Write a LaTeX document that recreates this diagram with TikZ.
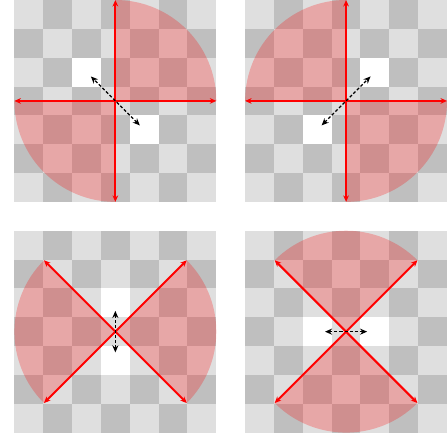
\documentclass[tikz,border=0pt]{standalone}
\usepackage{xcolor}
\usepackage{tikz}
\usetikzlibrary{arrows.meta}

\definecolor{lightsq}{HTML}{DFDFDF}
\definecolor{darksq}{HTML}{BFBFBF}

\begin{document}
\begin{tikzpicture}[
  x=5mm, y=5mm,
  lightcell/.style={fill=lightsq},
  darkcell/.style={fill=darksq},
  hole/.style={fill=white},
  sector/.style={fill=red, fill opacity=0.25},
  axis/.style={{Stealth[length=3.2pt, width=2.8pt]}-{Stealth[length=3.2pt, width=2.8pt]}, red, line width=1pt},
  move/.style={{Stealth[length=3.5pt, width=3pt]}-{Stealth[length=3.5pt, width=3pt]}, black, line width=0.6pt, dash pattern=on 1.5pt off 1pt}
]
  \useasboundingbox (-0.5,-0.07) rectangle (15,15);

  % centre x/y, first sector angle, hole offset, move angle, move length
  \foreach \cx/\cy/\a/\hx/\hy/\m/\l in {3.5/11.5/0/-1/1/135/1.2,
                                        11.5/11.5/90/1/1/45/1.2,
                                        3.5/3.5/-45/0/1/90/0.72,
                                        11.5/3.5/45/1/0/0/0.73} {
    \begin{scope}[shift={(\cx,\cy)}]
      \fill[lightcell] (-3.5,-3.5) rectangle (3.5,3.5);
      \foreach \i in {0,...,6}
        \foreach \j in {0,...,6} {
          \pgfmathtruncatemacro{\odd}{mod(\i+\j,2)}
          \ifnum\odd=1
            \fill[darkcell] (\i-3.5,\j-3.5) rectangle +(1,1);
          \fi
        }
      \fill[hole] (\hx-0.5,\hy-0.5) rectangle +(1,1);
      \fill[hole] (-\hx-0.5,-\hy-0.5) rectangle +(1,1);

      \fill[sector] (0,0) -- (\a:3.5) arc[start angle=\a, end angle=\a+90, radius=3.5] -- cycle;
      \fill[sector] (0,0) -- (\a+180:3.5) arc[start angle=\a+180, end angle=\a+270, radius=3.5] -- cycle;

      \draw[axis] (\a+180:3.5) -- (\a:3.5);
      \draw[axis] (\a-90:3.5) -- (\a+90:3.5);
      \draw[move] (\m+180:\l) -- (\m:\l);
    \end{scope}
  }
\end{tikzpicture}
\end{document}
